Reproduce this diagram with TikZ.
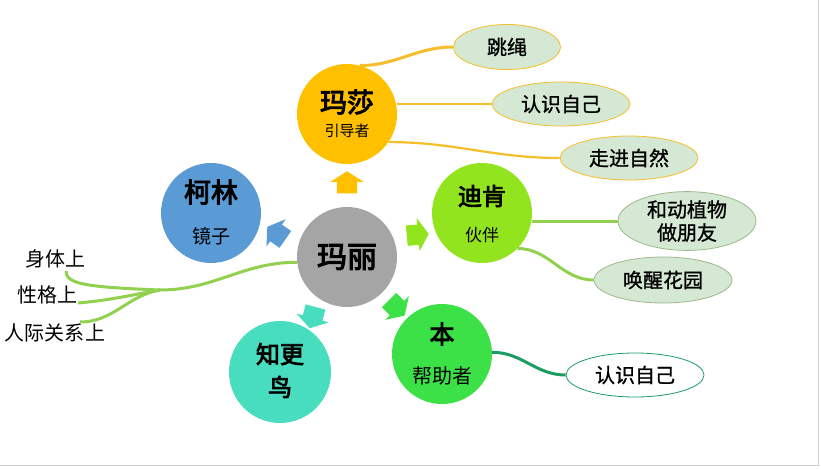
\documentclass[tikz,border=0pt]{standalone}
\usepackage{fontspec}
\setmainfont{Noto Sans CJK SC}
\newfontfamily\heavyfont[FakeBold=3.5]{Noto Sans CJK SC}
\newfontfamily\midfont[FakeBold=1]{Noto Sans CJK SC}
\usepackage{xcolor}
\usepackage{tikz}
\usetikzlibrary{positioning,calc,shapes.geometric,shapes.arrows}

\definecolor{maryGray}{HTML}{A5A5A5}
\definecolor{mashaOrange}{HTML}{FFC000}
\definecolor{colinBlue}{HTML}{5B9BD5}
\definecolor{dickonGreen}{HTML}{92E41E}
\definecolor{benGreen}{HTML}{3CE047}
\definecolor{robinTeal}{HTML}{48DDBF}
\definecolor{leafFill}{HTML}{D5E8D4}
\definecolor{goldLine}{HTML}{F5BE2A}
\definecolor{sageLine}{HTML}{9DB98A}
\definecolor{limeLine}{HTML}{92D050}
\definecolor{seaLine}{HTML}{1A9C63}
\definecolor{frameGray}{HTML}{D0D0D0}

\begin{document}
\begin{tikzpicture}[
  x=1pt, y=-1pt,
  person/.style={circle, minimum size=100pt, inner sep=0pt},
  who/.style={inner sep=0pt, font=\heavyfont\fontsize{#1}{#1}\selectfont},
  role/.style={inner sep=0pt, font=\fontsize{#1}{#1}\selectfont},
  push/.style={single arrow, inner xsep=0pt, inner ysep=10pt, minimum height=22pt, single arrow head extend=6.5pt, single arrow tip angle=115},
  leaf/.style={ellipse, draw=goldLine, fill=leafFill, line width=0.8pt, minimum width=138pt, minimum height=44pt, inner sep=0pt, align=center, font=\midfont\fontsize{20}{23}\selectfont},
  link/.style={line width=3pt},
  side/.style={inner sep=0pt, font=\fontsize{20}{20}\selectfont}
]
\useasboundingbox (0,0) rectangle (821,468);

% -- frame edge of the picture
\draw[frameGray, line width=1pt] (818.5,0) -- (818.5,465.5) -- (0,465.5);

% -- people
\node[person, fill=maryGray, font=\heavyfont\fontsize{30}{30}\selectfont] (mary) at (347,257) {玛丽};
\node[person, fill=mashaOrange] (masha) at (347,114) {};
\node[person, fill=colinBlue] (colin) at (211,213) {};
\node[person, fill=dickonGreen] (dickon) at (482,213) {};
\node[person, fill=benGreen] (ben) at (442,354) {};
\node[person, fill=robinTeal, minimum size=102pt] (robin) at (280,372) {};

\node[who=27] (masha-name) at ($(masha)+(0,-12)$) {玛莎};
\node[role=15] (masha-role) at ($(masha)+(0,17)$) {引导者};
\node[who=27] (colin-name) at ($(colin)+(0,-21)$) {柯林};
\node[role=19] (colin-role) at ($(colin)+(0,23)$) {镜子};
\node[who=24] (dickon-name) at ($(dickon)+(0,-17)$) {迪肯};
\node[role=17] (dickon-role) at ($(dickon)+(0,22)$) {伙伴};
\node[who=25] (ben-name) at ($(ben)+(0,-20)$) {本};
\node[role=20] (ben-role) at ($(ben)+(0,22)$) {帮助者};
\node[who=24, font=\heavyfont\fontsize{24}{33}\selectfont, align=center] (robin-name) at ($(robin)+(0,-1.5)$) {知更\\鸟};

% -- arrows from mary
\node[push, fill=mashaOrange, rotate=90] (to-masha) at ($(mary)!0.5!(masha)$) {};
\node[push, fill=colinBlue, rotate=145] (to-colin) at ($(mary)!0.5!(colin)$) {};
\node[push, fill=dickonGreen, rotate=5] (to-dickon) at ($(mary)!0.5!(dickon)$) {};
\node[push, fill=benGreen, rotate=-45] (to-ben) at ($(mary)!0.5!(ben)$) {};
\node[push, fill=robinTeal, rotate=-105] (to-robin) at ($(mary)!0.5!(robin)$) {};

% -- what they do
\node[leaf, minimum width=107pt, minimum height=45pt] (rope) at (507,47) {跳绳};
\node[leaf] (self) at (561,104) {认识自己};
\node[leaf] (nature) at (629,158) {走进自然};
\node[leaf, draw=sageLine, minimum height=47pt] (friends) at (687,221) {和动植物\\做朋友};
\node[leaf, draw=sageLine, minimum height=46pt] (garden) at (663,280) {唤醒花园};
\node[leaf, draw=seaLine, fill=white] (ben-self) at (635,375) {认识自己};

\draw[link, goldLine] (masha.75) to[out=0, in=180] (rope.west);
\draw[link, goldLine, line width=2.2pt] (self.west -| masha.east) -- (self.west);
\draw[link, goldLine, line width=2.2pt] (masha.-34) to[out=0, in=180] (nature.west);
\draw[link, limeLine] (friends.west -| dickon.east) -- (friends.west);
\draw[link, limeLine] (dickon.-45) to[out=0, in=180] (garden.west);
\draw[link, seaLine] (ben.2) to[out=0, in=180] (ben-self.west);

% -- mary on the left
\node[side] (body) at (55,259) {身体上};
\node[side] (character) at (47,295) {性格上};
\node[side] (social) at (55,333) {人际关系上};
\coordinate (hub) at (160,290);
\coordinate (body-end) at (66,271);
\coordinate (character-end) at (78,303);
\coordinate (social-end) at (80,322);

\draw[link, limeLine] (mary.186) to[out=180, in=0] (hub);
\draw[link, limeLine] (hub) .. controls +(-75,-3) and +(0,13) .. (body-end);
\draw[link, limeLine] (hub) to[out=190, in=5] (character-end);
\draw[link, limeLine] (hub) to[out=190, in=0] (social-end);

\end{tikzpicture}
\end{document}
